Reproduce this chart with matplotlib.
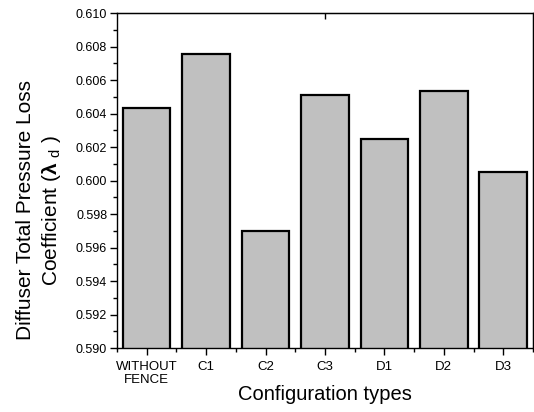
import matplotlib
matplotlib.use("Agg")
import matplotlib.pyplot as plt
from matplotlib.ticker import MultipleLocator, FixedLocator

categories = ["WITHOUT\nFENCE", "C1", "C2", "C3", "D1", "D2", "D3"]
values = [0.60433, 0.60759, 0.59700, 0.60514, 0.60250, 0.60538, 0.60053]

plt.rcParams['font.family'] = ['Liberation Sans', 'DejaVu Sans']
plt.rcParams['mathtext.fontset'] = 'custom'
plt.rcParams['mathtext.rm'] = 'Liberation Sans'
plt.rcParams['mathtext.it'] = 'Liberation Sans'
plt.rcParams['mathtext.bf'] = 'Liberation Sans:bold'

fig = plt.figure(figsize=(5.34, 4.12), dpi=100)
ax = fig.add_axes([0.219, 0.155, 0.779, 0.813])

x = list(range(len(categories)))
ax.bar(x, values, width=0.8, color="#c0c0c0", edgecolor="black", linewidth=1.6)

ax.set_xlim(-0.5, len(categories) - 0.5)
ax.set_ylim(0.590, 0.610)
ax.yaxis.set_major_locator(MultipleLocator(0.002))
ax.yaxis.set_minor_locator(MultipleLocator(0.001))
ax.yaxis.set_major_formatter(matplotlib.ticker.FormatStrFormatter('%.3f'))
ax.set_xticks(x)
ax.set_xticklabels(categories, fontsize=9.5, linespacing=1.12)
ax.xaxis.set_minor_locator(FixedLocator([i + 0.5 for i in range(-1, len(categories))]))
ax.tick_params(axis='y', which='major', labelsize=9, length=5, width=1, direction='out', pad=2)
ax.tick_params(axis='y', which='minor', length=3, width=1, direction='out')
ax.tick_params(axis='x', which='major', length=5, width=1, direction='out', pad=4.5)
ax.tick_params(axis='x', which='minor', length=3, width=1, direction='out')
for s in ax.spines.values():
    s.set_linewidth(1.0)

top = ax.secondary_xaxis('top')
top.set_xticks([3])
top.set_xticklabels([])
top.tick_params(direction='in', length=4, width=1)
right = ax.secondary_yaxis('right')
right.set_yticks([0.600])
right.set_yticklabels([])
right.tick_params(direction='out', length=3, width=1)

ax.set_xlabel("Configuration types", fontsize=14.5, labelpad=-1)
ax.set_ylabel("Diffuser Total Pressure Loss\nCoefficient ($\\mathbf{λ}$ $_\\mathregular{d}$ )", fontsize=15, linespacing=1.3)
ax.yaxis.set_label_coords(-0.13, 0.412)

fig.savefig("out.png", dpi=100)
